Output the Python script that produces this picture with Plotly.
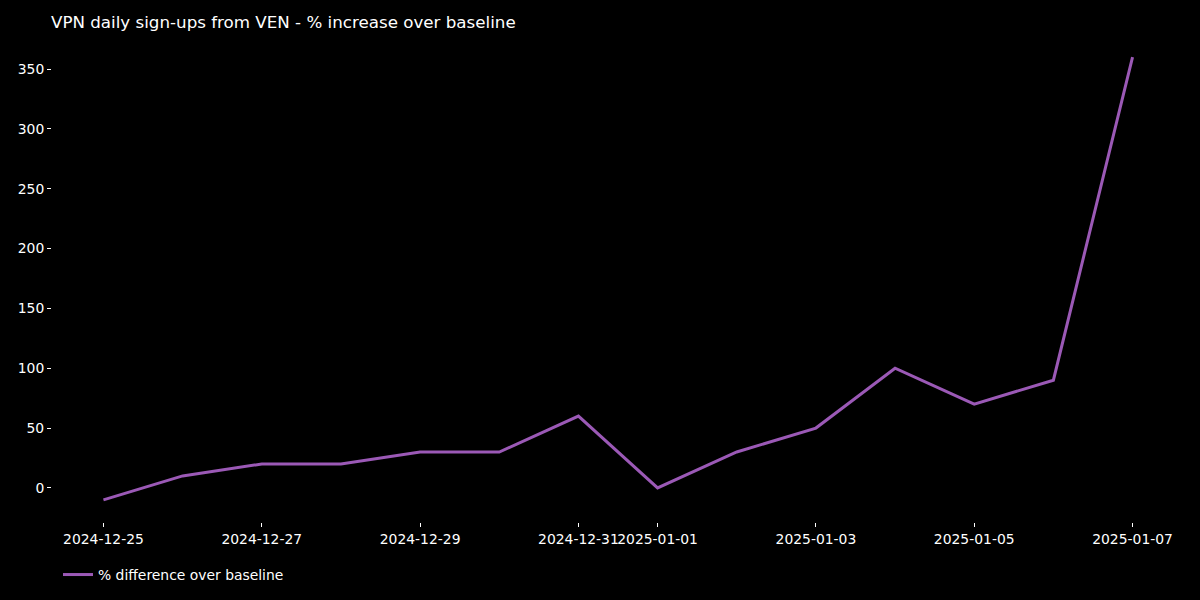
import plotly.graph_objects as go

dates = ["2024-12-25", "2024-12-26", "2024-12-27", "2024-12-28", "2024-12-29",
         "2024-12-30", "2024-12-31", "2025-01-01", "2025-01-02", "2025-01-03",
         "2025-01-04", "2025-01-05", "2025-01-06", "2025-01-07"]
pct_diff = [-10, 10, 20, 20, 30, 30, 60, 0, 30, 50, 100, 70, 90, 360]
x_ticks = ["2024-12-25", "2024-12-27", "2024-12-29", "2024-12-31", "2025-01-01",
           "2025-01-03", "2025-01-05", "2025-01-07"]
y_ticks = [0, 50, 100, 150, 200, 250, 300, 350]

fig = go.Figure()
fig.add_trace(go.Scatter(
    x=dates, y=pct_diff, mode="lines",
    name="% difference over baseline",
    line=dict(color="#9b59b6", width=3),
))

font = "DejaVu Sans, sans-serif"
fig.update_layout(
    width=1200, height=600,
    paper_bgcolor="black", plot_bgcolor="black",
    margin=dict(l=51.5, r=15.5, t=35, b=78),
    font=dict(family=font, color="white", size=13.9),
    title=dict(text="VPN daily sign-ups from VEN - % increase over baseline",
               x=51 / 1200, xanchor="left", y=1 - 22 / 600, yanchor="middle",
               font=dict(size=16.7, color="white", family=font)),
    showlegend=True,
    legend=dict(orientation="h", x=58 / 1200, xref="container", xanchor="left",
                y=1 - 575 / 600, yref="container", yanchor="middle",
                bgcolor="rgba(0,0,0,0)", font=dict(size=13.9, color="white")),
    xaxis=dict(
        type="date",
        range=["2024-12-24 08:24", "2025-01-07 15:36"],
        tickvals=x_ticks, ticktext=x_ticks, tickangle=0,
        ticklabeloverflow="allow",
        ticks="outside", ticklen=4, tickwidth=1, tickcolor="white",
        showgrid=False, zeroline=False, showline=False,
        tickfont=dict(size=13.9, color="white", family=font),
    ),
    yaxis=dict(
        range=[-28.5, 378.5],
        tickvals=y_ticks,
        ticks="outside", ticklen=4, tickwidth=1, tickcolor="white",
        showgrid=False, zeroline=False, showline=False,
        tickfont=dict(size=13.9, color="white", family=font),
    ),
)

fig.write_html(
    "out.html",
    config={"displayModeBar": False},
    post_script="document.body.style.margin='0';document.body.style.background='black';",
)
